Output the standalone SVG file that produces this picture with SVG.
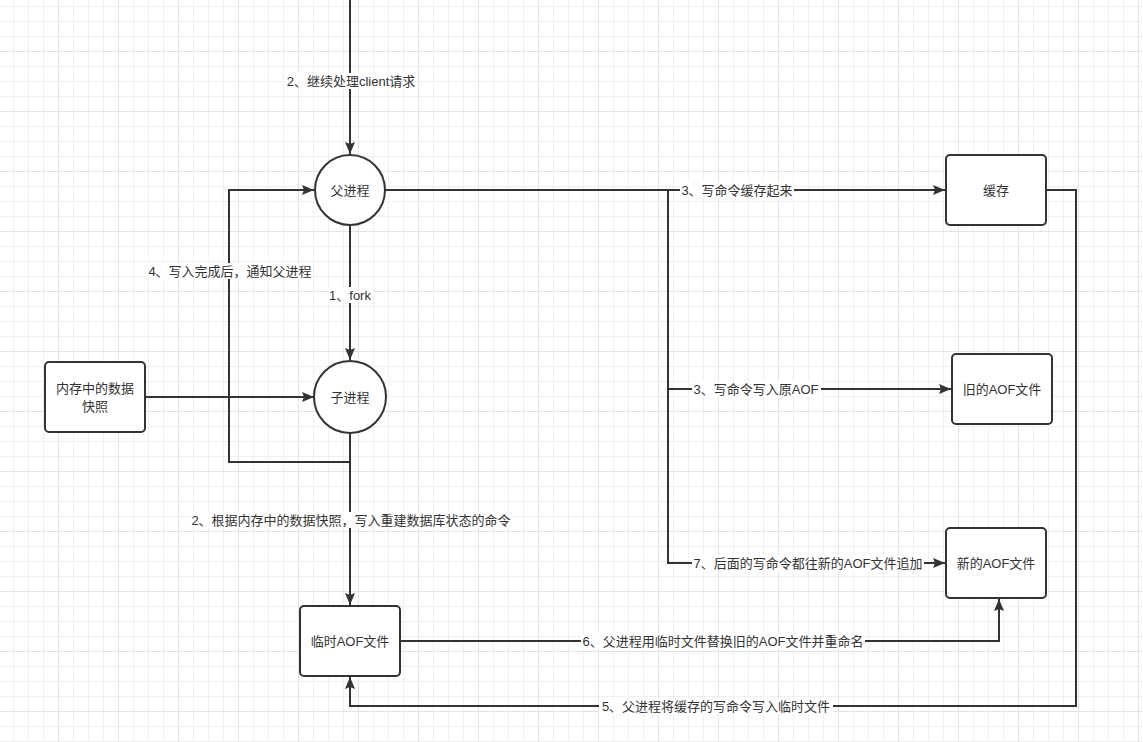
<svg xmlns="http://www.w3.org/2000/svg" width="1143" height="742" viewBox="0 0 1143 742">
<style>
text{font-family:"Liberation Sans","Noto Sans CJK SC",sans-serif;font-size:13px;fill:#333;text-anchor:middle}
.node{fill:#fff;stroke:#333;stroke-width:2}
.edge{fill:none;stroke:#333;stroke-width:2}
.lbg{fill:#fff}
</style>
<defs>
<pattern id="minor" patternUnits="userSpaceOnUse" x="13" y="6" width="15" height="15">
<path d="M0.5 0V15M0 0.5H15" stroke="#f0f0f0" stroke-width="1" fill="none"/>
</pattern>
<pattern id="major" patternUnits="userSpaceOnUse" x="58" y="51" width="60" height="60">
<path d="M0.5 0V60M0 0.5H60" stroke="#e4e4e4" stroke-width="1" fill="none"/>
</pattern>
<marker id="arr" markerUnits="userSpaceOnUse" markerWidth="14" markerHeight="12" refX="12" refY="5" orient="auto">
<path d="M0 0L12 5L0 10L2 5Z" fill="#333"/>
</marker>
</defs>
<rect width="1143" height="742" fill="#fff"/>
<rect width="1143" height="742" fill="url(#minor)"/>
<rect width="1143" height="742" fill="url(#major)"/>

<g id="connectors">
<path class="edge" d="M350 0V154" marker-end="url(#arr)"/>
<path class="edge" d="M350 226V360" marker-end="url(#arr)"/>
<path class="edge" d="M385 190H945" marker-end="url(#arr)"/>
<path class="edge" d="M668 190V389H951" marker-end="url(#arr)"/>
<path class="edge" d="M668 389V563H945" marker-end="url(#arr)"/>
<path class="edge" d="M145 397H314" marker-end="url(#arr)"/>
<path class="edge" d="M350 433V462H229V190H314" marker-end="url(#arr)"/>
<path class="edge" d="M350 433V605" marker-end="url(#arr)"/>
<path class="edge" d="M400 641H999V599" marker-end="url(#arr)"/>
<path class="edge" d="M1046 190H1076V706H350V677" marker-end="url(#arr)"/>

<g id="edge-labels">
<rect class="lbg" x="285" y="73" width="132" height="16"/>
<text x="351" y="81" dy="0.35em">2、继续处理client请求</text>
<rect class="lbg" x="328" y="287" width="45" height="16"/>
<text x="350" y="295" dy="0.35em">1、fork</text>
<rect class="lbg" x="147" y="263" width="166" height="16"/>
<text x="230" y="271" dy="0.35em">4、写入完成后，通知父进程</text>
<rect class="lbg" x="680" y="182" width="114" height="16"/>
<text x="737" y="190" dy="0.35em">3、写命令缓存起来</text>
<rect class="lbg" x="692" y="381" width="129" height="16"/>
<text x="756" y="389" dy="0.35em">3、写命令写入原AOF</text>
<rect class="lbg" x="692" y="555" width="232" height="16"/>
<text x="808" y="563" dy="0.35em">7、后面的写命令都往新的AOF文件追加</text>
<rect class="lbg" x="190" y="512" width="323" height="16"/>
<text x="351" y="520" dy="0.35em">2、根据内存中的数据快照，写入重建数据库状态的命令</text>
<rect class="lbg" x="581" y="633" width="284" height="16"/>
<text x="723" y="641" dy="0.35em">6、父进程用临时文件替换旧的AOF文件并重命名</text>
<rect class="lbg" x="599" y="698" width="234" height="16"/>
<text x="716" y="706" dy="0.35em">5、父进程将缓存的写命令写入临时文件</text>
</g>
</g>

<g id="parent">
<circle class="node" cx="350" cy="190" r="35"/>
<text x="350" y="190" dy="0.35em">父进程</text>
</g>
<g id="child">
<circle class="node" cx="350" cy="397" r="36"/>
<text x="350" y="397" dy="0.35em">子进程</text>
</g>
<g id="snapshot">
<rect class="node" x="45" y="362" width="100" height="70" rx="4"/>
<text x="95" y="388" dy="0.35em">内存中的数据</text>
<text x="95" y="406" dy="0.35em">快照</text>
</g>
<g id="cache">
<rect class="node" x="946" y="155" width="100" height="70" rx="4"/>
<text x="996" y="190" dy="0.35em">缓存</text>
</g>
<g id="old-aof">
<rect class="node" x="952" y="354" width="100" height="70" rx="4"/>
<text x="1002" y="389" dy="0.35em">旧的AOF文件</text>
</g>
<g id="new-aof">
<rect class="node" x="946" y="528" width="100" height="70" rx="4"/>
<text x="996" y="563" dy="0.35em">新的AOF文件</text>
</g>
<g id="tmp-aof">
<rect class="node" x="300" y="606" width="100" height="70" rx="4"/>
<text x="350" y="641" dy="0.35em">临时AOF文件</text>
</g>
</svg>
